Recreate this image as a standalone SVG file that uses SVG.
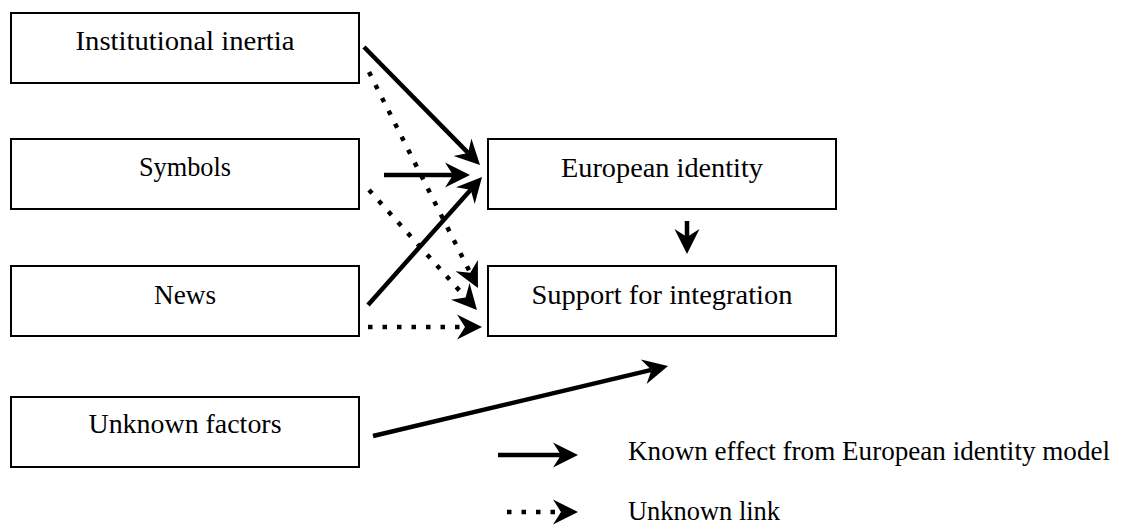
<svg xmlns="http://www.w3.org/2000/svg" width="1142" height="526" viewBox="0 0 1142 526">
  <style>
    .box { fill: #ffffff; stroke: #000000; stroke-width: 2; }
    text { font-family: "Liberation Serif", "Times New Roman", serif; font-size: 27px; fill: #000000; }
    .mid { text-anchor: middle; }
    .solid { stroke: #000000; stroke-width: 4.5; fill: none; }
    .dotted { stroke: #000000; stroke-width: 4.5; fill: none; stroke-dasharray: 4.5 10; }
  </style>
  <defs>
    <!-- barbed arrowhead; the reference point is the notch, the tip sits 17px ahead -->
    <marker id="head" markerUnits="userSpaceOnUse" markerWidth="28" markerHeight="28" refX="8" refY="12.5" orient="auto" overflow="visible">
      <path d="M0,0 L25,12.5 L0,25 L8,12.5 Z" fill="#000000"/>
    </marker>
  </defs>

  <rect width="1142" height="526" fill="#ffffff"/>

  <!-- source factors -->
  <g id="institutional-inertia">
    <rect class="box" x="11" y="13" width="348" height="70"/>
    <text class="mid" x="185" y="50" textLength="219" lengthAdjust="spacingAndGlyphs">Institutional inertia</text>
  </g>
  <g id="symbols">
    <rect class="box" x="11" y="139" width="348" height="70"/>
    <text class="mid" x="185" y="176" textLength="92" lengthAdjust="spacingAndGlyphs">Symbols</text>
  </g>
  <g id="news">
    <rect class="box" x="11" y="266" width="348" height="70"/>
    <text class="mid" x="185" y="304" textLength="62" lengthAdjust="spacingAndGlyphs">News</text>
  </g>
  <g id="unknown-factors">
    <rect class="box" x="11" y="397" width="348" height="70"/>
    <text class="mid" x="185" y="433" textLength="193" lengthAdjust="spacingAndGlyphs">Unknown factors</text>
  </g>

  <!-- outcomes -->
  <g id="european-identity">
    <rect class="box" x="488" y="139" width="348" height="70"/>
    <text class="mid" x="662" y="177" textLength="202" lengthAdjust="spacingAndGlyphs">European identity</text>
  </g>
  <g id="support-for-integration">
    <rect class="box" x="488" y="266" width="348" height="70"/>
    <text class="mid" x="662" y="304" textLength="261" lengthAdjust="spacingAndGlyphs">Support for integration</text>
  </g>

  <!-- effects between factors and outcomes -->
  <g id="connectors">
    <line class="solid" x1="364" y1="47" x2="468.1" y2="152.9" marker-end="url(#head)"/>
    <line class="solid" x1="384" y1="175" x2="453" y2="175" marker-end="url(#head)"/>
    <line class="solid" x1="368" y1="305" x2="470.7" y2="189.7" marker-end="url(#head)"/>
    <line class="dotted" x1="369" y1="72" x2="470.3" y2="272.8" marker-end="url(#head)"/>
    <line class="dotted" x1="369" y1="190" x2="465.6" y2="297.4" marker-end="url(#head)"/>
    <line class="dotted" x1="368" y1="327" x2="465" y2="327" marker-end="url(#head)"/>
    <line class="solid" x1="687" y1="221" x2="687" y2="237" marker-end="url(#head)"/>
    <line class="solid" x1="373" y1="436" x2="651.5" y2="369.9" marker-end="url(#head)"/>
  </g>

  <!-- key -->
  <g id="legend">
    <line class="solid" x1="498" y1="455" x2="561" y2="455" marker-end="url(#head)"/>
    <text x="628" y="460" textLength="482" lengthAdjust="spacingAndGlyphs">Known effect from European identity model</text>
    <line class="dotted" x1="507" y1="512" x2="561" y2="512" marker-end="url(#head)"/>
    <text x="628" y="520" textLength="152" lengthAdjust="spacingAndGlyphs">Unknown link</text>
  </g>
</svg>
